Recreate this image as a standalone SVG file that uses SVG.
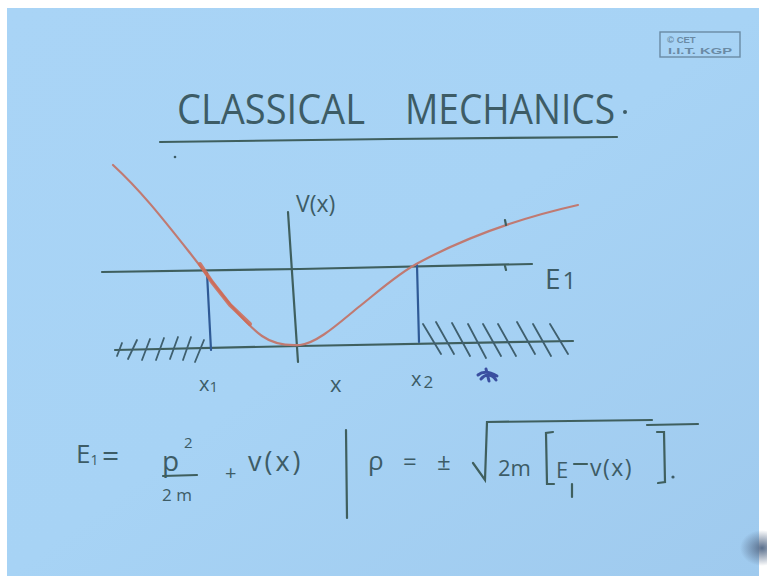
<svg xmlns="http://www.w3.org/2000/svg" width="767" height="578" viewBox="0 0 767 578">
<defs>
<linearGradient id="bg" x1="0" y1="0" x2="1" y2="1">
<stop offset="0" stop-color="#a9d4f6"/>
<stop offset="0.5" stop-color="#a7d3f5"/>
<stop offset="1" stop-color="#9fcaee"/>
</linearGradient>
<radialGradient id="hand" cx="0.5" cy="0.5" r="0.5">
<stop offset="0" stop-color="#5a6f8c"/>
<stop offset="1" stop-color="#5a6f8c" stop-opacity="0"/>
</radialGradient>
</defs>
<style>
.ln{fill:none;stroke:#3f5f5e;stroke-width:2.2;stroke-linecap:round}
.bl{fill:none;stroke:#2f5a96;stroke-width:2.2;stroke-linecap:round}
.red{fill:none;stroke:#c07a72;stroke-width:2.2;stroke-linecap:round}
.ht{fill:none;stroke:#3f5f6e;stroke-width:1.8;stroke-linecap:round}
.tx{font-family:"Open Sans","Liberation Sans",sans-serif;fill:#3d5c66}
.st{font-family:"Liberation Sans",sans-serif;fill:#6a8aa4;font-size:9.5px;font-weight:bold}
</style>
<rect width="767" height="578" fill="#ffffff"/>
<rect x="7" y="8" width="752" height="568" fill="url(#bg)"/>
<ellipse cx="762" cy="548" rx="22" ry="18" fill="url(#hand)"/>

<g id="stamp">
<rect x="660" y="32" width="80" height="25" fill="none" stroke="#6a8aa4" stroke-width="1.4"/>
<text class="st" x="667" y="43">© CET</text>
<text class="st" x="668" y="54" textLength="64" lengthAdjust="spacingAndGlyphs">I.I.T. KGP</text>
</g>

<g id="title">
<text class="tx" x="177" y="124" font-size="42" textLength="188" lengthAdjust="spacingAndGlyphs">CLASSICAL</text>
<text class="tx" x="405" y="124" font-size="42" textLength="210" lengthAdjust="spacingAndGlyphs">MECHANICS</text>
<circle cx="625" cy="112" r="2" fill="#3d5c66"/>
<path class="ln" d="M160,142 L390,139 L617,137"/>
<circle cx="175" cy="157" r="1.3" fill="#3d5c66"/>
</g>

<g id="graph">
<path class="ln" d="M102,272 L300,269 L532,264"/>
<path class="ln" d="M115,350 L300,346 L573,341"/>
<path class="ln" d="M288,212 L298,362"/>
<path class="bl" d="M207,273 L211,350"/>
<path class="bl" d="M417,265 L419,342"/>
<path class="red" d="M113,165 C140,190 160,215 190,253 C215,285 240,320 262,336 C272,343 285,346 300,345 C318,343 340,322 360,306 C380,290 400,272 420,262 C465,238 520,218 578,205"/>
<path d="M200,264 L212,282 L230,305 L250,324" fill="none" stroke="#cf6a55" stroke-width="4" stroke-linecap="round" opacity="0.85"/>
<path class="ln" d="M505,220 L506,225 M505,266 L506,270" stroke-width="1.5"/>
<g id="hatch-left">
<path class="ht" d="M117,356 L122,343 M128,359 L137,340 M142,360 L150,339 M156,360 L164,338 M170,359 L178,337 M183,360 L191,337 M195,362 L204,340"/>
</g>
<g id="hatch-right">
<path class="ht" d="M423,324 L441,354 M436,322 L454,354 M452,323 L470,356 M468,324 L486,358 M483,324 L501,356 M498,324 L516,356 M517,322 L535,354 M533,324 L551,356 M550,324 L568,354"/>
</g>
<path d="M478,375 C483,371 490,372 497,376 M481,379 C486,373 492,374 496,380 M486,369 L489,381" fill="none" stroke="#3a4fa0" stroke-width="3" stroke-linecap="round"/>
</g>

<g id="labels">
<text class="tx" x="296" y="212" font-size="23">V(x)</text>
<text class="tx" x="545" y="289" font-size="28">E<tspan font-size="24" dx="2">1</tspan></text>
<text class="tx" x="199" y="391" font-size="20">x<tspan font-size="15" dy="1">1</tspan></text>
<text class="tx" x="330" y="392" font-size="22">x</text>
<text class="tx" x="411" y="386" font-size="20">x<tspan font-size="17" dx="2" dy="2">2</tspan></text>
</g>

<g id="formula-left">
<text class="tx" x="76" y="463" font-size="26">E<tspan font-size="14" dy="2">1</tspan></text>
<text class="tx" x="102" y="466" font-size="30">=</text>
<text class="tx" x="162" y="471" font-size="28">p</text>
<text class="tx" x="184" y="448" font-size="15">2</text>
<path class="ln" d="M163,476 L197,475" stroke-width="1.8"/>
<text class="tx" x="162" y="501" font-size="17">2 m</text>
<text class="tx" x="225" y="480" font-size="20">+</text>
<text class="tx" x="248" y="471" font-size="27" letter-spacing="3">v(x)</text>
<path class="ln" d="M346,430 L347,518" stroke-width="2"/>
</g>

<g id="formula-right">
<text class="tx" x="368" y="470" font-size="26">ρ</text>
<text class="tx" x="403" y="470" font-size="24">=</text>
<text class="tx" x="437" y="470" font-size="24">±</text>
<path class="ln" d="M473,463 L485,480 L487,422 L652,420" stroke-width="1.8"/>
<path class="ln" d="M647,425 L698,424" stroke-width="1.8"/>
<text class="tx" x="498" y="476" font-size="22">2m</text>
<path class="ln" d="M553,432 L546,433 L547,484 L554,484" stroke-width="2"/>
<text class="tx" x="556" y="478" font-size="22">E</text>
<path class="ln" d="M572,484 L572,497" stroke-width="1.6"/>
<path class="ln" d="M574,464 L587,464" stroke-width="1.8"/>
<text class="tx" x="590" y="476" font-size="23" letter-spacing="1.5">v(x)</text>
<path class="ln" d="M657,432 L664,432 L665,482 L658,483" stroke-width="2"/>
<circle cx="673" cy="477" r="1.6" fill="#3d5c66"/>
</g>
</svg>
